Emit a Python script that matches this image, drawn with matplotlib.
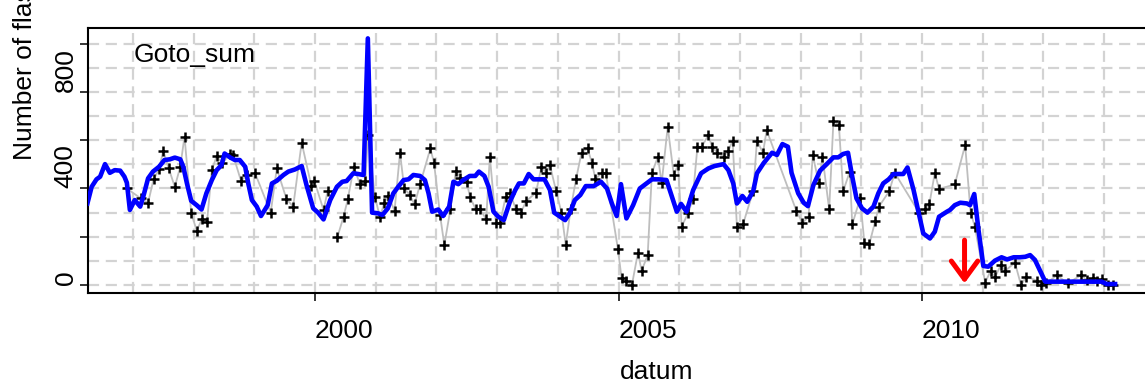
import numpy as np
import matplotlib
matplotlib.use("Agg")
import matplotlib.pyplot as plt

plt.rcParams["font.family"] = ["Liberation Sans", "DejaVu Sans"]

# monthly observations (decimal year, count); NaN = break in the grey line
obs_t = [1996.90, 1997.13, 1997.25, 1997.34, 1997.43, 1997.50, 1997.59, 1997.69,
         1997.78, 1997.85, 1997.96, 1998.05, 1998.14, 1998.22, 1998.30, 1998.38,
         1998.47, 1998.60, 1998.65, 1998.78, 1998.88, 1999.01, 1999.27, 1999.37,
         1999.53, 1999.64, 1999.78, 1999.94, 1999.99, 2000.14, 2000.21, np.nan,
         2000.37, 2000.47, 2000.54, 2000.64, 2000.74, 2000.83, 2000.87, 2000.99,
         2001.07, 2001.14, 2001.21, 2001.31, 2001.40, 2001.47, 2001.56, 2001.64,
         2001.73, 2001.90, 2001.96, 2002.06, 2002.13, 2002.23, 2002.32, 2002.39,
         2002.50, 2002.55, 2002.65, 2002.72, 2002.82, 2002.88, 2002.98, 2003.05,
         2003.14, 2003.21, 2003.31, 2003.39, 2003.48, 2003.64, 2003.73, 2003.81,
         2003.87, 2003.97, 2004.06, 2004.13, 2004.21, 2004.30, 2004.39, 2004.49,
         2004.56, 2004.62, 2004.72, 2004.79, 2004.99, 2005.05, 2005.13, 2005.22,
         2005.32, 2005.38, 2005.48, 2005.55, 2005.65, 2005.71, 2005.81, 2005.91,
         2005.98, 2006.04, 2006.15, 2006.22, 2006.30, 2006.37, 2006.48, 2006.54,
         2006.63, 2006.73, 2006.81, 2006.88, 2006.95, 2007.05, 2007.22, 2007.28,
         2007.38, 2007.44, 2007.93, 2008.03, 2008.13, 2008.20, 2008.30, 2008.36,
         2008.47, 2008.54, 2008.63, 2008.70, 2008.81, 2008.85, 2008.98, 2009.05,
         2009.13, 2009.23, 2009.29, 2009.46, 2009.55, 2009.95, 2010.05, 2010.12,
         2010.21, 2010.28, 2010.54, 2010.71, 2010.80, 2010.87, 2011.04, 2011.13,
         2011.20, 2011.30, 2011.37, 2011.53, 2011.63, 2011.72, 2011.89, 2011.96,
         2012.05, 2012.22, 2012.40, 2012.62, 2012.71, 2012.81, 2012.89, 2012.96,
         2013.06, 2013.15]
obs_v = [400, 359, 341, 438, 479, 557, 483, 407,
         490, 615, 300, 225, 275, 260, 476, 534,
         504, 543, 539, 432, 456, 465, 300, 483,
         356, 325, 590, 410, 431, 311, 391, np.nan,
         200, 283, 356, 490, 417, 432, 621, 363,
         280, 341, 369, 308, 548, 400, 374, 334,
         417, 566, 507, 290, 166, 313, 474, 445,
         428, 366, 313, 313, 273, 532, 255, 258,
         366, 383, 313, 300, 348, 383, 490, 465,
         497, 391, 300, 166, 313, 439, 548, 566,
         507, 439, 465, 465, 149, 28, 17, 0,
         134, 59, 124, 465, 532, 421, 656, 456,
         497, 242, 300, 355, 573, 573, 621, 573,
         548, 532, 557, 598, 242, 251, 391, 598,
         548, 642, 307, 258, 283, 539, 421, 532,
         313, 679, 663, 389, 470, 251, 359, 175,
         168, 266, 325, 389, 465, 300, 313, 334,
         465, 398, 417, 580, 300, 242, 10, 59,
         32, 83, 59, 93, 0, 35, 18, 0,
         7, 41, 7, 41, 21, 28, 18, 25,
         0, 0]

# fitted series (blue)
fit_t = [1996.25, 1996.32, 1996.40, 1996.46, 1996.54, 1996.62, 1996.70, 1996.79,
         1996.86, 1996.90, 1996.95, 1997.03, 1997.12, 1997.17, 1997.25, 1997.33,
         1997.43, 1997.52, 1997.61, 1997.69, 1997.78, 1997.83, 1997.89, 1997.96,
         1998.05, 1998.13, 1998.21, 1998.30, 1998.38, 1998.46, 1998.51, 1998.60,
         1998.68, 1998.76, 1998.85, 1998.90, 1998.96, 1999.04, 1999.11, 1999.22,
         1999.29, 1999.37, 1999.48, 1999.56, 1999.67, 1999.78, 1999.86, 1999.97,
         2000.05, 2000.14, 2000.25, 2000.36, 2000.45, 2000.52, 2000.63, 2000.71,
         2000.80, 2000.87, 2000.94, 2001.04, 2001.11, 2001.20, 2001.29, 2001.37,
         2001.46, 2001.54, 2001.62, 2001.73, 2001.81, 2001.87, 2001.93, 2002.03,
         2002.11, 2002.21, 2002.28, 2002.36, 2002.44, 2002.55, 2002.64, 2002.70,
         2002.79, 2002.86, 2002.94, 2003.02, 2003.11, 2003.21, 2003.30, 2003.36,
         2003.44, 2003.52, 2003.60, 2003.71, 2003.78, 2003.87, 2003.94, 2004.04,
         2004.12, 2004.20, 2004.28, 2004.37, 2004.46, 2004.59, 2004.71, 2004.81,
         2004.89, 2004.97, 2005.04, 2005.13, 2005.24, 2005.35, 2005.46, 2005.55,
         2005.66, 2005.79, 2005.88, 2005.96, 2006.03, 2006.12, 2006.23, 2006.36,
         2006.48, 2006.58, 2006.73, 2006.81, 2006.89, 2006.95, 2007.04, 2007.12,
         2007.22, 2007.28, 2007.39, 2007.47, 2007.53, 2007.61, 2007.70, 2007.79,
         2007.85, 2007.96, 2008.05, 2008.12, 2008.21, 2008.32, 2008.43, 2008.54,
         2008.62, 2008.70, 2008.78, 2008.85, 2008.92, 2009.01, 2009.10, 2009.20,
         2009.28, 2009.36, 2009.45, 2009.53, 2009.61, 2009.69, 2009.76, 2009.86,
         2009.94, 2010.02, 2010.13, 2010.21, 2010.28, 2010.41, 2010.46, 2010.54,
         2010.63, 2010.74, 2010.79, 2010.86, 2010.93, 2011.01, 2011.09, 2011.20,
         2011.31, 2011.40, 2011.51, 2011.61, 2011.70, 2011.78, 2011.86, 2011.94,
         2012.03, 2012.50, 2012.96, 2013.04, 2013.18]
fit_v = [338, 407, 438, 449, 501, 465, 476, 474,
         449, 424, 311, 352, 325, 366, 442, 470,
         490, 518, 521, 528, 521, 490, 421, 349,
         331, 313, 380, 435, 476, 497, 545, 529,
         518, 518, 490, 421, 352, 325, 286, 331,
         421, 432, 456, 470, 479, 493, 414, 318,
         300, 272, 352, 407, 428, 431, 463, 460,
         456, 1022, 300, 297, 290, 318, 380, 407,
         435, 438, 456, 452, 435, 380, 304, 313,
         286, 325, 428, 418, 435, 452, 452, 470,
         452, 407, 304, 283, 269, 345, 394, 421,
         421, 460, 438, 438, 438, 394, 300, 283,
         269, 300, 352, 373, 410, 410, 428, 400,
         338, 286, 418, 276, 331, 400, 421, 438,
         438, 435, 366, 304, 336, 304, 394, 463,
         483, 493, 501, 476, 421, 338, 369, 345,
         391, 463, 505, 530, 548, 539, 584, 573,
         465, 380, 341, 327, 414, 474, 501, 529,
         529, 543, 548, 449, 359, 318, 300, 325,
         380, 421, 438, 460, 460, 460, 487, 394,
         304, 214, 193, 221, 283, 304, 311, 331,
         341, 338, 331, 377, 228, 79, 76, 101,
         115, 106, 115, 115, 117, 124, 104, 62,
         14, 14, 14, 4, 4]

arrow_t = 2010.70
arrow_from, arrow_to = 186, 7

fig = plt.figure(figsize=(11.45, 3.83), dpi=100)
# axes runs past the right border of the picture (cropped like the original)
ax = fig.add_axes([88 / 1145, 90 / 383, 1072 / 1145, 265 / 383])

ax.set_xlim(1996.26, 2013.92)
ax.set_ylim(-33, 1065)

# dashed grid: every year, every 100
for yr in range(1997, 2014):
    ax.axvline(yr, color="#D3D3D3", lw=1.6, ls=(0, (5, 3)), zorder=0)
for v in range(0, 1001, 100):
    ax.axhline(v, color="#D3D3D3", lw=1.6, ls=(0, (5, 3)), zorder=0)

ax.plot(obs_t, obs_v, color="#BEBEBE", lw=1.3, zorder=2)
ax.plot(obs_t, obs_v, ls="none", marker="+", ms=6.5, mew=1.8, color="black", zorder=3)
ax.plot(fit_t, fit_v, color="#0000FF", lw=3.3, zorder=4)

ax.annotate("", xy=(arrow_t, arrow_to), xytext=(arrow_t, arrow_from),
            arrowprops=dict(arrowstyle="->,head_length=1.3,head_width=0.95",
                            color="#FF0000", lw=3.6, shrinkA=0, shrinkB=0,
                            mutation_scale=10), zorder=5)

ax.set_xticks([2000, 2005, 2010], labels=["2000", "2005", "2010"], ha="left")
ax.set_yticks([0, 200, 400, 600, 800, 1000],
              labels=["0", "", "400", "", "800", ""], rotation=90, va="bottom")
ax.tick_params(axis="x", length=5.8, width=1.1, pad=13, labelsize=19)
ax.tick_params(axis="y", length=5.8, width=1.1, pad=1.5, labelsize=19)

for side in ["left", "bottom", "top", "right"]:
    ax.spines[side].set_linewidth(1.5)

fig.text(134 / 1145, (383 - 62) / 383, "Goto_sum", fontsize=19, va="baseline")
fig.text(620 / 1145, 4 / 383, "datum", fontsize=19, va="baseline")
fig.text(32 / 1145, (383 - 160) / 383, "Number of flashes", fontsize=19,
         rotation=90, rotation_mode="anchor", ha="left", va="baseline")

fig.savefig("out.png", dpi=100)
